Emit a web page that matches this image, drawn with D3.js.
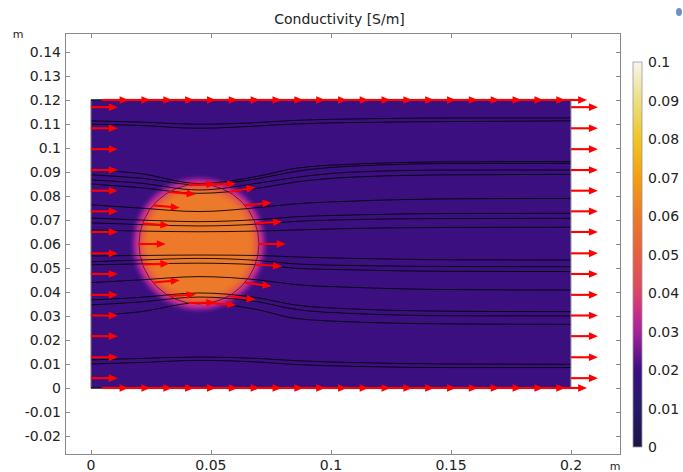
<!DOCTYPE html>
<html>
<head>
<meta charset="utf-8">
<script src="https://cdn.jsdelivr.net/npm/d3@7"></script>
<style>
  body { margin: 0; background: #fff; }
  svg text { font-family: "DejaVu Sans", sans-serif; fill: #222; }
</style>
</head>
<body>
<svg id="chart" width="683" height="472"></svg>
<script>
// Chart text and ticks
const chartTitle = "Conductivity [S/m]";
const xTicks = [0, 0.05, 0.1, 0.15, 0.2];
const yTicks = [-0.02, -0.01, 0, 0.01, 0.02, 0.03, 0.04, 0.05, 0.06, 0.07, 0.08, 0.09, 0.1, 0.11, 0.12, 0.13, 0.14];
const colorTicks = [0, 0.01, 0.02, 0.03, 0.04, 0.05, 0.06, 0.07, 0.08, 0.09, 0.1];

// Model geometry (m) and conductivities (S/m)
const domainWidth = 0.2;
const domainHeight = 0.12;
const inclusionCenter = [0.045, 0.06];
const inclusionRadius = 0.025;
const sigmaBackground = 0.02;
const sigmaInclusion = 0.06;
const blendWidth = 0.0045;

// Streamlines: shared x stations, one y row per line
const streamX = [0, 0.02, 0.045, 0.07, 0.085, 0.11, 0.15, 0.2];
const streamY = [
    [0.1113, 0.1108, 0.1099, 0.1106, 0.1115, 0.1121, 0.1125, 0.1125],
    [0.1099, 0.1094, 0.1082, 0.1092, 0.1100, 0.1106, 0.1110, 0.1113],
    [0.0908, 0.0894, 0.0852, 0.0883, 0.0915, 0.0933, 0.0942, 0.0943],
    [0.0888, 0.0875, 0.0846, 0.0873, 0.0902, 0.0925, 0.0935, 0.0936],
    [0.0867, 0.0854, 0.0825, 0.0854, 0.0877, 0.0900, 0.0908, 0.0908],
    [0.0850, 0.0835, 0.0811, 0.0833, 0.0858, 0.0879, 0.0888, 0.0890],
    [0.0763, 0.0750, 0.0735, 0.0752, 0.0767, 0.0779, 0.0788, 0.0790],
    [0.0708, 0.0700, 0.0693, 0.0702, 0.0713, 0.0721, 0.0727, 0.0728],
    [0.0688, 0.0681, 0.0675, 0.0683, 0.0694, 0.0702, 0.0706, 0.0707],
    [0.0658, 0.0654, 0.0651, 0.0654, 0.0658, 0.0665, 0.0669, 0.0670],
    [0.0550, 0.0552, 0.0554, 0.0552, 0.0546, 0.0540, 0.0534, 0.0533],
    [0.0526, 0.0533, 0.0540, 0.0531, 0.0517, 0.0510, 0.0506, 0.0505],
    [0.0513, 0.0517, 0.0520, 0.0513, 0.0499, 0.0492, 0.0486, 0.0485],
    [0.0439, 0.0450, 0.0464, 0.0450, 0.0431, 0.0419, 0.0410, 0.0408],
    [0.0367, 0.0377, 0.0396, 0.0375, 0.0346, 0.0329, 0.0320, 0.0318],
    [0.0346, 0.0358, 0.0379, 0.0358, 0.0328, 0.0310, 0.0301, 0.0300],
    [0.0300, 0.0317, 0.0355, 0.0325, 0.0290, 0.0275, 0.0267, 0.0265],
    [0.0117, 0.0123, 0.0129, 0.0123, 0.0114, 0.0106, 0.0100, 0.0099],
    [0.0100, 0.0106, 0.0115, 0.0108, 0.0098, 0.0090, 0.0085, 0.0085]
];

// Arrows (current density direction)
const edgeArrowY = [0.0041, 0.0128, 0.0216, 0.0302, 0.0388, 0.0475, 0.0561, 0.0650, 0.0736, 0.0822, 0.0908, 0.0995, 0.1082, 0.1170];
const wallArrowX = [0.0045, 0.0136, 0.0227, 0.0318, 0.0409, 0.0500, 0.0591, 0.0682, 0.0773, 0.0864, 0.0955,
                    0.1045, 0.1136, 0.1227, 0.1318, 0.1409, 0.1500, 0.1591, 0.1682, 0.1773, 0.1864, 0.1955];
const ringArrowAngle = [0, 20, 40, 60, 80, 100, 120, 140, 160, 180, 200, 220, 240, 260, 280, 300, 320, 340];
const ringArrowDir = [0, 4, 6, 10, 3, 2, -5, -5, -4, 0, 2, 5, 3, 1, -4, -8, -8, -4];
const arrowLength = 0.0112;

// Colour table (HeatCamera-like)
const cmapStops = [0, 0.01, 0.02, 0.03, 0.035, 0.04, 0.05, 0.06, 0.07, 0.08, 0.09, 0.1];
const cmapColors = ["#1b1446", "#251a68", "#3b0f80", "#a6239a", "#c92e86", "#db4668", "#e7603f",
                    "#ec7a2a", "#f3a00e", "#f0c524", "#ebe082", "#f6f5ef"];

// Layout
const frame = { left: 65, right: 620, top: 33, bottom: 454 };
const bar = { left: 633, right: 642, top: 62, bottom: 447 };

const svg = d3.select('#chart');

const x = d3.scaleLinear().domain([-0.0108, 0.2204]).range([frame.left, frame.right]);
const y = d3.scaleLinear().domain([-0.0275, 0.1479]).range([frame.bottom, frame.top]);
const color = d3.scaleLinear().domain(cmapStops).range(cmapColors).interpolate(d3.interpolateRgb).clamp(true);
const cbar = d3.scaleLinear().domain([0, 0.1]).range([bar.bottom, bar.top]);

function conductivity(px, py) {
    const r = Math.hypot(px - inclusionCenter[0], py - inclusionCenter[1]);
    let t = (r - (inclusionRadius - blendWidth)) / (2 * blendWidth);
    t = Math.max(0, Math.min(1, t));
    const s = t * t * (3 - 2 * t);
    return sigmaInclusion + (sigmaBackground - sigmaInclusion) * s;
}

// Field image
const x0 = x(0), y0 = y(domainHeight);
const cw = Math.round(x(domainWidth) - x0);
const ch = Math.round(y(0) - y0);
const canvas = document.createElement('canvas');
canvas.width = cw;
canvas.height = ch;
const ctx = canvas.getContext('2d');
const img = ctx.createImageData(cw, ch);
for (let j = 0; j < ch; j++) {
    const vy = y.invert(y0 + j + 0.5);
    for (let i = 0; i < cw; i++) {
        const vx = x.invert(x0 + i + 0.5);
        const c = d3.rgb(color(conductivity(vx, vy)));
        const k = (j * cw + i) * 4;
        img.data[k] = c.r; img.data[k + 1] = c.g; img.data[k + 2] = c.b; img.data[k + 3] = 255;
    }
}
ctx.putImageData(img, 0, 0);

svg.append('image')
    .attr('x', x0).attr('y', y0)
    .attr('width', cw).attr('height', ch)
    .attr('preserveAspectRatio', 'none')
    .attr('href', canvas.toDataURL());

svg.append('clipPath').attr('id', 'dom')
    .append('rect')
    .attr('x', x0).attr('y', y0).attr('width', cw).attr('height', ch);

// Streamlines
const line = d3.line()
    .x((d, i) => x(streamX[i]))
    .y(d => y(d))
    .curve(d3.curveMonotoneX);

svg.append('g')
    .attr('clip-path', 'url(#dom)')
    .selectAll('path')
    .data(streamY)
    .enter().append('path')
    .attr('d', line)
    .attr('fill', 'none')
    .attr('stroke', '#000')
    .attr('stroke-opacity', 0.85)
    .attr('stroke-width', 1);

// Inclusion outline
svg.append('circle')
    .attr('cx', x(inclusionCenter[0]))
    .attr('cy', y(inclusionCenter[1]))
    .attr('r', x(inclusionRadius) - x(0))
    .attr('fill', 'none')
    .attr('stroke', '#2a0830')
    .attr('stroke-opacity', 0.7)
    .attr('stroke-width', 1);

// Domain edges
svg.append('line')
    .attr('x1', x(0)).attr('x2', x(0)).attr('y1', y(0)).attr('y2', y(domainHeight))
    .attr('stroke', '#888').attr('stroke-width', 1);
svg.append('line')
    .attr('x1', x(domainWidth)).attr('x2', x(domainWidth)).attr('y1', y(0)).attr('y2', y(domainHeight))
    .attr('stroke', '#999').attr('stroke-width', 1);
[0, domainHeight].forEach(v => {
    svg.append('line')
        .attr('x1', x(0)).attr('x2', x(domainWidth)).attr('y1', y(v)).attr('y2', y(v))
        .attr('stroke', '#111').attr('stroke-width', 1.3);
});

// Arrows
const arrowG = svg.append('g');
function drawArrow(ax, ay, deg) {
    const a = deg * Math.PI / 180;
    const L = x(arrowLength) - x(0);
    const ux = Math.cos(a), uy = -Math.sin(a);
    const sx = x(ax), sy = y(ay);
    const tx = sx + ux * L, ty = sy + uy * L;
    const hl = 9, hw = 3.8;
    const bx = tx - ux * hl, by = ty - uy * hl;
    arrowG.append('line')
        .attr('x1', sx).attr('y1', sy).attr('x2', bx + ux).attr('y2', by + uy)
        .attr('stroke', '#ff0000').attr('stroke-width', 2.1);
    arrowG.append('path')
        .attr('d', `M${tx},${ty}L${bx - uy * hw},${by + ux * hw}L${bx + uy * hw},${by - ux * hw}Z`)
        .attr('fill', '#ff0000');
}

edgeArrowY.forEach(v => drawArrow(0, v, 0));
edgeArrowY.forEach(v => drawArrow(domainWidth, v, 0));
wallArrowX.forEach(v => { drawArrow(v, domainHeight, 0); drawArrow(v, 0, 0); });
ringArrowAngle.forEach((ang, i) => {
    const t = ang * Math.PI / 180;
    drawArrow(inclusionCenter[0] + inclusionRadius * Math.cos(t),
              inclusionCenter[1] + inclusionRadius * Math.sin(t),
              ringArrowDir[i]);
});

// Frame and ticks
svg.append('rect')
    .attr('x', frame.left + 0.5).attr('y', frame.top + 0.5)
    .attr('width', frame.right - frame.left).attr('height', frame.bottom - frame.top)
    .attr('fill', 'none').attr('stroke', '#8a8a8a').attr('stroke-width', 1);

const tickG = svg.append('g').attr('stroke', '#8a8a8a').attr('stroke-width', 1);
xTicks.forEach(v => {
    const px = Math.round(x(v)) + 0.5;
    tickG.append('line').attr('x1', px).attr('x2', px).attr('y1', frame.bottom).attr('y2', frame.bottom - 4);
    tickG.append('line').attr('x1', px).attr('x2', px).attr('y1', frame.top + 1).attr('y2', frame.top + 5);
});
yTicks.forEach(v => {
    const py = Math.round(y(v)) + 0.5;
    tickG.append('line').attr('x1', frame.left + 1).attr('x2', frame.left + 5).attr('y1', py).attr('y2', py);
    tickG.append('line').attr('x1', frame.right).attr('x2', frame.right - 4).attr('y1', py).attr('y2', py);
});

const fmt = v => String(+v.toFixed(3));

svg.append('g').selectAll('text')
    .data(yTicks)
    .enter().append('text')
    .attr('x', frame.left - 4)
    .attr('y', d => y(d))
    .attr('dy', '0.36em')
    .attr('text-anchor', 'end')
    .style('font-size', '14px')
    .text(fmt);

svg.append('g').selectAll('text')
    .data(xTicks)
    .enter().append('text')
    .attr('x', d => x(d))
    .attr('y', frame.bottom + 16)
    .attr('text-anchor', 'middle')
    .style('font-size', '14px')
    .text(fmt);

svg.append('text').attr('x', 18).attr('y', 38).attr('text-anchor', 'middle')
    .style('font-size', '11px').text('m');
svg.append('text').attr('x', 615).attr('y', 470).attr('text-anchor', 'middle')
    .style('font-size', '11px').text('m');

svg.append('text')
    .attr('x', (frame.left + frame.right) / 2 - 3)
    .attr('y', 24)
    .attr('text-anchor', 'middle')
    .style('font-size', '14px')
    .text(chartTitle);

// Colour bar
const grad = svg.append('defs').append('linearGradient')
    .attr('id', 'cgrad').attr('x1', 0).attr('y1', 1).attr('x2', 0).attr('y2', 0);
cmapStops.forEach((v, i) => {
    grad.append('stop').attr('offset', v / 0.1).attr('stop-color', cmapColors[i]);
});
svg.append('rect')
    .attr('x', bar.left).attr('y', cbar(0.1))
    .attr('width', bar.right - bar.left).attr('height', cbar(0) - cbar(0.1))
    .attr('fill', 'url(#cgrad)')
    .attr('stroke', '#999').attr('stroke-width', 0.8);

svg.append('g').selectAll('text')
    .data(colorTicks)
    .enter().append('text')
    .attr('x', bar.right + 6)
    .attr('y', d => cbar(d))
    .attr('dy', '0.36em')
    .style('font-size', '14px')
    .text(fmt);

// small window glyph at the top right corner
svg.append('ellipse').attr('cx', 679).attr('cy', 12).attr('rx', 3).attr('ry', 4)
    .attr('fill', '#6f8fc8');
</script>
</body>
</html>
